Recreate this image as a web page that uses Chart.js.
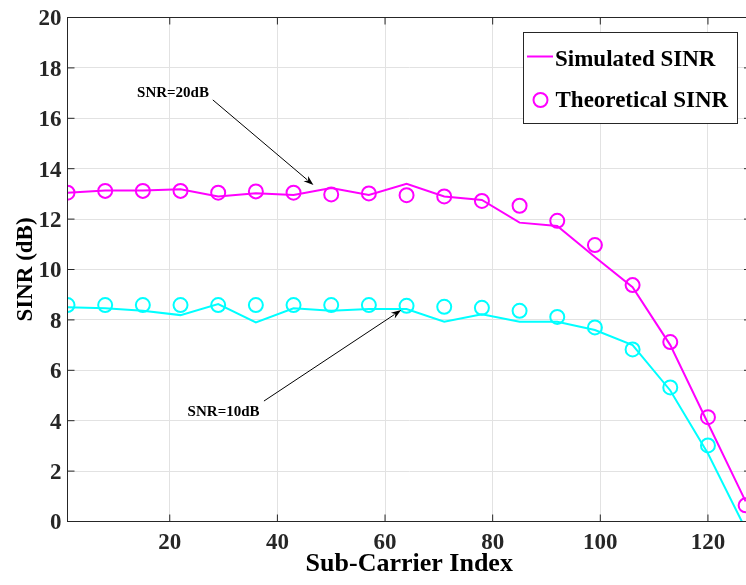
<!DOCTYPE html>
<html>
<head>
<meta charset="utf-8">
<script src="https://cdn.jsdelivr.net/npm/chart.js@4.4.1/dist/chart.umd.min.js"></script>
<style>
  html, body { margin: 0; padding: 0; background: #fff; overflow: hidden; }
  #wrap { position: relative; width: 751px; height: 585px; }
  canvas { display: block; }
</style>
</head>
<body>
<div id="wrap"><canvas id="c" width="751" height="585" style="width:751px;height:585px"></canvas></div>
<script>
// ---- data ----
const subCarriers = [1, 8, 15, 22, 29, 36, 43, 50, 57, 64, 71, 78, 85, 92, 99, 106, 113, 120, 127];
const simSinr20 = [13.05, 13.13, 13.13, 13.18, 12.9, 13.03, 12.96, 13.23, 12.96, 13.4, 12.9, 12.76, 11.86, 11.73, 10.5, 9.3, 7.0, 3.9, 0.8];
const theoSinr20 = [13.05, 13.12, 13.12, 13.12, 13.05, 13.1, 13.05, 12.98, 13.02, 12.95, 12.9, 12.72, 12.53, 11.93, 10.97, 9.38, 7.12, 4.14, 0.64];
const simSinr10 = [8.5, 8.46, 8.36, 8.19, 8.63, 7.9, 8.46, 8.36, 8.43, 8.43, 7.93, 8.22, 7.93, 7.93, 7.6, 7.0, 5.2, 2.7, -0.3];
const theoSinr10 = [8.59, 8.59, 8.59, 8.59, 8.59, 8.59, 8.59, 8.59, 8.59, 8.56, 8.52, 8.48, 8.36, 8.12, 7.70, 6.83, 5.32, 3.02, -0.5];
const xTickValues = [20, 40, 60, 80, 100, 120];
const yTickValues = [0, 2, 4, 6, 8, 10, 12, 14, 16, 18, 20];
const legendLabels = ['Simulated SINR', 'Theoretical SINR'];
const annotations = [
  { text: 'SNR=20dB', tx: 20.6, ty: 17.05, from: [28.0, 16.73], to: [46.7, 13.35] },
  { text: 'SNR=10dB', tx: 30.0, ty: 4.38, from: [37.5, 4.78], to: [63.0, 8.39] }
];

const MAGENTA = '#ff00ff';
const CYAN = '#00ffff';
const AXIS = '#262626';
const SERIF = '"Liberation Serif", "Times New Roman", serif';

const pts = arr => arr.map((v, i) => ({ x: subCarriers[i], y: v }));

const boxPlugin = {
  id: 'box',
  afterDatasetsDraw(chart) {
    const { ctx, chartArea: a, scales: { x, y } } = chart;
    ctx.save();
    ctx.strokeStyle = AXIS;
    ctx.lineWidth = 1;
    ctx.strokeRect(a.left, a.top, a.right - a.left, a.bottom - a.top);
    const tl = 7;
    ctx.beginPath();
    xTickValues.forEach(v => {
      const px = x.getPixelForValue(v);
      ctx.moveTo(px, a.bottom); ctx.lineTo(px, a.bottom - tl);
      ctx.moveTo(px, a.top); ctx.lineTo(px, a.top + tl);
    });
    yTickValues.forEach(v => {
      const py = y.getPixelForValue(v);
      ctx.moveTo(a.left, py); ctx.lineTo(a.left + tl, py);
      ctx.moveTo(a.right, py); ctx.lineTo(a.right - tl, py);
    });
    ctx.stroke();
    ctx.restore();
  },
  afterDraw(chart) {
    const { ctx, scales: { x, y } } = chart;
    ctx.save();
    // annotations
    ctx.fillStyle = '#000';
    ctx.strokeStyle = '#000';
    ctx.font = 'bold 15px ' + SERIF;
    ctx.textAlign = 'center';
    ctx.textBaseline = 'middle';
    annotations.forEach(an => {
      ctx.fillText(an.text, x.getPixelForValue(an.tx), y.getPixelForValue(an.ty) + 1);
      const x1 = x.getPixelForValue(an.from[0]), y1 = y.getPixelForValue(an.from[1]);
      const x2 = x.getPixelForValue(an.to[0]), y2 = y.getPixelForValue(an.to[1]);
      const ang = Math.atan2(y2 - y1, x2 - x1);
      const hl = 10, hw = 3.5;
      ctx.lineWidth = 1;
      ctx.beginPath();
      ctx.moveTo(x1, y1);
      ctx.lineTo(x2 - hl * 0.8 * Math.cos(ang), y2 - hl * 0.8 * Math.sin(ang));
      ctx.stroke();
      ctx.beginPath();
      ctx.moveTo(x2, y2);
      ctx.lineTo(x2 - hl * Math.cos(ang) + hw * Math.sin(ang), y2 - hl * Math.sin(ang) - hw * Math.cos(ang));
      ctx.lineTo(x2 - hl * 0.7 * Math.cos(ang), y2 - hl * 0.7 * Math.sin(ang));
      ctx.lineTo(x2 - hl * Math.cos(ang) - hw * Math.sin(ang), y2 - hl * Math.sin(ang) + hw * Math.cos(ang));
      ctx.closePath();
      ctx.fill();
    });
    // legend
    const lx = 523.5, ly = 32.5, lw = 214, lh = 91;
    ctx.fillStyle = '#fff';
    ctx.fillRect(lx, ly, lw, lh);
    ctx.strokeStyle = AXIS;
    ctx.lineWidth = 1;
    ctx.strokeRect(lx, ly, lw, lh);
    ctx.strokeStyle = MAGENTA;
    ctx.lineWidth = 2;
    ctx.beginPath();
    ctx.moveTo(527, 56.5); ctx.lineTo(553, 56.5);
    ctx.stroke();
    ctx.beginPath();
    ctx.arc(540.5, 100, 7, 0, Math.PI * 2);
    ctx.stroke();
    ctx.fillStyle = '#000';
    ctx.font = 'bold 23px ' + SERIF;
    ctx.textAlign = 'left';
    ctx.textBaseline = 'alphabetic';
    ctx.fillText(legendLabels[0], 555, 65.5);
    ctx.fillText(legendLabels[1], 555.5, 106.5);
    ctx.restore();
  }
};

const lineDs = (data, color) => ({
  data: pts(data), borderColor: color, borderWidth: 2, pointRadius: 0,
  fill: false, tension: 0, clip: 0, showLine: true
});
const circDs = (data, color) => ({
  data: pts(data), borderColor: color, backgroundColor: 'rgba(0,0,0,0)', borderWidth: 2,
  pointRadius: 7, pointStyle: 'circle', showLine: false, clip: 0
});

new Chart(document.getElementById('c'), {
  type: 'line',
  data: {
    datasets: [
      lineDs(simSinr20, MAGENTA),
      lineDs(simSinr10, CYAN),
      circDs(theoSinr20, MAGENTA),
      circDs(theoSinr10, CYAN)
    ]
  },
  options: {
    responsive: false,
    maintainAspectRatio: false,
    devicePixelRatio: 1,
    animation: false,
    events: [],
    layout: { autoPadding: false, padding: { top: 17.5, right: 0, left: 0, bottom: 0 } },
    plugins: { legend: { display: false }, tooltip: { enabled: false } },
    scales: {
      x: {
        type: 'linear', min: 1, max: 128,
        afterBuildTicks: s => { s.ticks = xTickValues.map(v => ({ value: v })); },
        afterFit: s => { s.height = 63.5; s.paddingLeft = 0; s.paddingRight = 0; },
        grid: { color: '#e2e2e2', lineWidth: 1, drawTicks: false },
        border: { display: false },
        ticks: { color: AXIS, font: { family: SERIF, size: 23, weight: 'bold' }, padding: 8, maxRotation: 0 },
        title: { display: true, text: 'Sub-Carrier Index', color: '#000',
          font: { family: SERIF, size: 26, weight: 'bold' }, padding: { top: 0, bottom: 5 } }
      },
      y: {
        type: 'linear', min: 0, max: 20,
        afterBuildTicks: s => { s.ticks = yTickValues.map(v => ({ value: v })); },
        afterFit: s => { s.width = 67.5; s.paddingTop = 0; s.paddingBottom = 0; },
        grid: { color: '#e2e2e2', lineWidth: 1, drawTicks: false },
        border: { display: false },
        ticks: { color: AXIS, font: { family: SERIF, size: 23, weight: 'bold' }, padding: 6, labelOffset: 2 },
        title: { display: true, text: 'SINR (dB)', color: '#000',
          font: { family: SERIF, size: 23, weight: 'bold' }, padding: { top: 12, bottom: 0 } }
      }
    }
  },
  plugins: [boxPlugin]
});
</script>
</body>
</html>
